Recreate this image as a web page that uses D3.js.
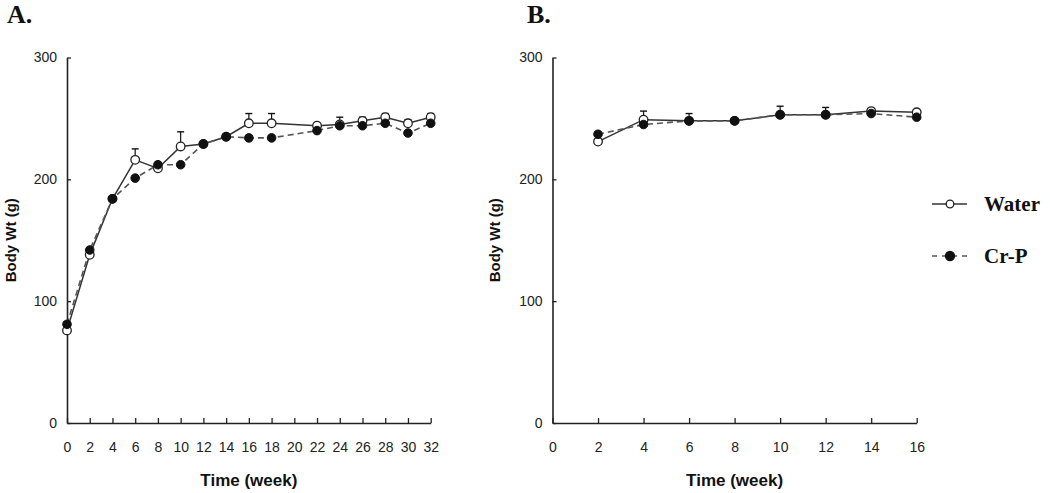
<!DOCTYPE html>
<html><head><meta charset="utf-8">
<script src="https://cdn.jsdelivr.net/npm/d3@7"></script>
<style>body{margin:0;background:#fff}svg{display:block}</style>
</head><body>
<svg id="c" width="1050" height="493"></svg>
<script>
// Panel A data
const weeksA = [0,2,4,6,8,10,12,14,16,18,22,24,26,28,30,32];
const waterA = [76,138,184,216,209,227,229,235,246,246,244,245,248,251,246,251];
const waterErrA = [2,2,2,9,2,12,2,2,8,8,2,6,3,3,3,3];
const crpA = [81,142,184,201,212,212,229,235,234,234,240,244,244,246,238,246];
const crpErrA = [2,2,2,2,2,2,2,2,2,2,2,2,2,2,2,2];
// Panel B data
const weeksB = [2,4,6,8,10,12,14,16];
const waterB = [231,249,248,248,253,253,256,255];
const waterErrB = [2,7,6,2,7,6,2,2];
const crpB = [237,245,248,248,253,253,254,251];
const crpErrB = [2,2,2,2,2,2,2,2];
// Ticks
const yTicks = [0,100,200,300];
const xTicksA = d3.range(0,33,2);
const xTicksB = d3.range(0,17,2);
const seriesNames = ["Water","Cr-P"];

const svg = d3.select("#c");
const yTop = 57.5, yBot = 423;

function panel(opts){
  const x = d3.scaleLinear().domain(opts.xDomain).range([opts.x0, opts.x1]);
  const y = d3.scaleLinear().domain([0,300]).range([yBot, yTop]);
  const g = svg.append("g");
  const ya = g.append("g").attr("transform",`translate(${opts.x0},0)`)
    .call(d3.axisLeft(y).tickValues(yTicks).tickSizeInner(-4).tickSizeOuter(0).tickPadding(10));
  const xa = g.append("g").attr("transform",`translate(0,${yBot})`)
    .call(d3.axisBottom(x).tickValues(opts.xTicks).tickSizeInner(-5).tickSizeOuter(0).tickPadding(19));
  [ya,xa].forEach(a=>{
    a.select(".domain").attr("stroke","#222").attr("stroke-width",1.6);
    a.selectAll(".tick line").attr("stroke","#222").attr("stroke-width",1.3);
    a.selectAll("text").attr("font-family","Liberation Sans, Arial, sans-serif").attr("font-size",14).attr("fill","#222");
  });
  g.append("text").attr("x", x((opts.xDomain[0]+opts.xDomain[1])/2)).attr("y",486)
    .attr("text-anchor","middle").attr("font-family","Liberation Sans, Arial, sans-serif")
    .attr("font-weight","bold").attr("font-size",17).attr("fill","#111").text("Time (week)");
  g.append("text").attr("transform",`translate(${opts.ytX},${(yTop+yBot)/2}) rotate(-90)`)
    .attr("text-anchor","middle").attr("font-family","Liberation Sans, Arial, sans-serif")
    .attr("font-weight","bold").attr("font-size",15).attr("fill","#111").text("Body Wt (g)");
  g.append("text").attr("x",opts.lblX).attr("y",23).attr("font-family","Liberation Serif, Times New Roman, serif")
    .attr("font-weight","bold").attr("font-size",26).attr("fill","#111").text(opts.label);

  const line = d3.line().x(d=>x(d[0])).y(d=>y(d[1]));
  const cr = opts.weeks.map((w,i)=>[w,opts.crp[i],opts.crpErr[i]]);
  const wa = opts.weeks.map((w,i)=>[w,opts.water[i],opts.waterErr[i]]);
  [cr,wa].forEach(data=>{
    const eb = g.append("g");
    eb.selectAll("line.v").data(data).join("line")
      .attr("x1",d=>x(d[0])).attr("x2",d=>x(d[0])).attr("y1",d=>y(d[1])).attr("y2",d=>y(d[1]+d[2]))
      .attr("stroke","#111").attr("stroke-width",1.2);
    eb.selectAll("line.c").data(data).join("line")
      .attr("x1",d=>x(d[0])-3.5).attr("x2",d=>x(d[0])+3.5).attr("y1",d=>y(d[1]+d[2])).attr("y2",d=>y(d[1]+d[2]))
      .attr("stroke","#111").attr("stroke-width",1.4);
  });
  g.append("path").datum(wa).attr("d",line).attr("fill","none").attr("stroke","#333").attr("stroke-width",1.5);
  g.append("path").datum(cr).attr("d",line).attr("fill","none").attr("stroke","#555")
    .attr("stroke-width",1.6).attr("stroke-dasharray","6,4");
  g.append("g").selectAll("circle").data(wa).join("circle").attr("cx",d=>x(d[0])).attr("cy",d=>y(d[1]))
    .attr("r",4.3).attr("fill","#fff").attr("stroke","#222").attr("stroke-width",1.3);
  g.append("g").selectAll("circle").data(cr).join("circle").attr("cx",d=>x(d[0])).attr("cy",d=>y(d[1]))
    .attr("r",4.3).attr("fill","#111").attr("stroke","#111");
}

panel({xDomain:[0,32], x0:67, x1:430.7, xTicks:xTicksA, weeks:weeksA, water:waterA, waterErr:waterErrA,
  crp:crpA, crpErr:crpErrA, ytX:16, lblX:7, label:"A."});
panel({xDomain:[0,16], x0:552.5, x1:916.7, xTicks:xTicksB, weeks:weeksB, water:waterB, waterErr:waterErrB,
  crp:crpB, crpErr:crpErrB, ytX:500, lblX:527, label:"B."});

const leg = svg.append("g");
const legY = [204,256];
seriesNames.forEach((name,i)=>{
  const yy = legY[i];
  leg.append("line").attr("x1",932).attr("x2",967).attr("y1",yy).attr("y2",yy)
    .attr("stroke", i===0?"#333":"#555").attr("stroke-width",1.5)
    .attr("stroke-dasharray", i===0?null:"5,5");
  leg.append("circle").attr("cx",950).attr("cy",yy).attr("r",i===0?3.8:4.5)
    .attr("fill",i===0?"#fff":"#111").attr("stroke",i===0?"#222":"#111").attr("stroke-width",1.3);
  leg.append("text").attr("x",984).attr("y",yy+7).attr("font-family","Liberation Serif, Times New Roman, serif")
    .attr("font-weight","bold").attr("font-size",21).attr("fill","#111").text(name);
});
</script>
</body></html>
